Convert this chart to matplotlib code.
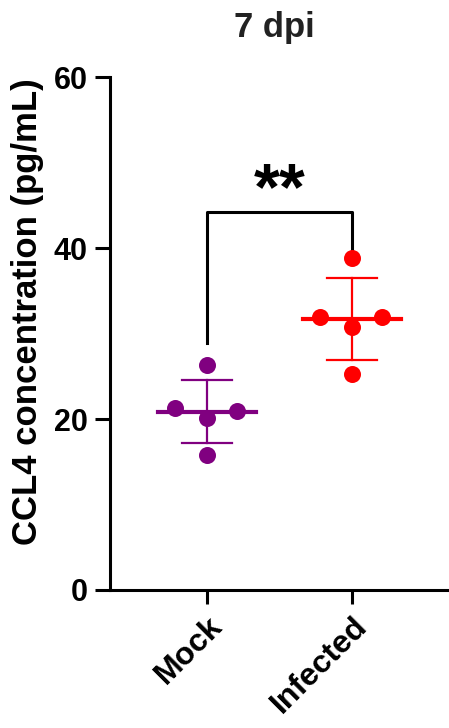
import numpy as np
from matplotlib import pyplot as plt

plt.rcParams['font.family'] = ['Liberation Sans', 'DejaVu Sans']
plt.rcParams['font.weight'] = 'bold'

groups = ["Mock", "Infected"]
mock = [26.3, 21.3, 20.9, 20.1, 15.8]
infected = [38.8, 31.9, 31.9, 30.8, 25.3]
colors = ["#800080", "#FF0000"]
title = "7 dpi"
ylabel = "CCL4 concentration (pg/mL)"
yticks = [0, 20, 40, 60]

fig = plt.figure(dpi=100, figsize=(4.49, 7.28))
ax = fig.add_axes([0.245, 0.1896, 0.7505, 0.7044])

#horizontal spread of the dots, same pattern for each group
spread = [0, -0.22, 0.21, 0, 0]

for i, vals in enumerate([mock, infected]):
    vals = np.array(vals)
    m = vals.mean()
    sd = vals.std(ddof=1)
    c = colors[i]
    ax.plot([i - 0.34, i + 0.34], [m, m], color=c, lw=3, zorder=2)
    ax.plot([i, i], [m - sd, m + sd], color=c, lw=1.6, zorder=2)
    ax.plot([i - 0.17, i + 0.17], [m + sd, m + sd], color=c, lw=1.6, zorder=2)
    ax.plot([i - 0.17, i + 0.17], [m - sd, m - sd], color=c, lw=1.6, zorder=2)
    ax.scatter(i + np.array(spread), vals, s=150, color=c, zorder=3, linewidths=0)

#significance bracket
ax.plot([0, 0, 1, 1], [max(mock) + 2.6, 44.2, 44.2, max(infected) + 1.0],
        color="black", lw=2.2, clip_on=False)
ax.text(0.5, 42.9, "**", ha="center", va="bottom", fontsize=48, fontweight="bold")

ax.set_xlim(-0.669, 1.655)
ax.set_ylim(0, 60)
ax.set_yticks(yticks)
ax.set_xticks([0, 1])
ax.set_xticklabels(groups, rotation=45, ha="right", rotation_mode="anchor",
                   fontsize=23, fontweight="bold")
ax.tick_params(axis="y", labelsize=22, width=2.2, length=11, pad=5)
ax.tick_params(axis="x", width=2.2, length=10, pad=5)
for lab in ax.get_yticklabels():
    lab.set_fontweight("bold")

for side in ["top", "right"]:
    ax.spines[side].set_visible(False)
for side in ["left", "bottom"]:
    ax.spines[side].set_linewidth(2.2)

ax.set_ylabel(ylabel, fontsize=25, fontweight="bold")
ax.yaxis.set_label_coords(-0.195, 0.542)
fig.text(0.61, 0.962, title, ha="center", va="center", fontsize=25, fontweight="bold",
         color="#222222")

plt.savefig("out.png", dpi=100)
